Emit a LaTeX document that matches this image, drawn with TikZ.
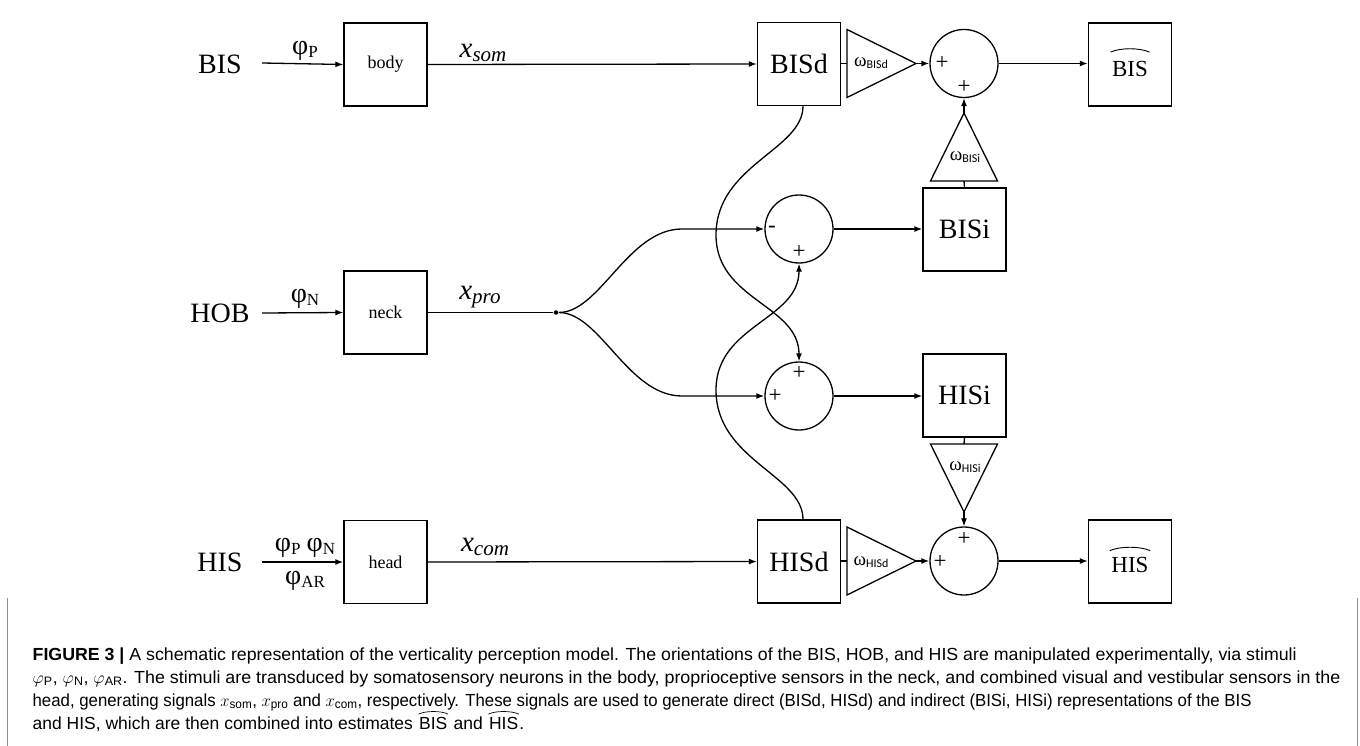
\documentclass[tikz,border=0pt]{standalone}
\usepackage{graphicx}
\usepackage{fontspec}
\setmainfont{Liberation Serif}
\newfontfamily\grk{Liberation Serif}
\newfontfamily\capfont{Liberation Sans}
\newfontfamily\subsans{Carlito}
\usetikzlibrary{arrows.meta}
\newcommand{\phisub}[1]{{\grk\fontsize{28}{28}\selectfont φ}{\fontsize{17}{17}\selectfont\raisebox{-3pt}{#1}}}
\newcommand{\omsub}[1]{{\grk\fontsize{19}{19}\selectfont ω}{\subsans\fontsize{12}{12}\selectfont\raisebox{-2pt}{#1}}}
\newcommand{\xsub}[1]{{\itshape\fontsize{29}{29}\selectfont x}{\itshape\fontsize{21}{21}\selectfont\raisebox{-4pt}{#1}}}
\begin{document}
\begin{tikzpicture}[x=1pt,y=-1pt,
  line width=1.3pt,
  blk/.style={draw, line width=1.3pt, minimum width=83pt, minimum height=83pt, inner sep=0pt},
  bigtxt/.style={font=\fontsize{28}{30}\selectfont},
  smalltxt/.style={font=\fontsize{18}{20}\selectfont},
  hattxt/.style={inner sep=0pt, font=\fontsize{23}{25}\selectfont},
  sumc/.style={draw, circle, line width=1.3pt, minimum size=68pt, inner sep=0pt},
  sgn/.style={inner sep=0pt, font=\fontsize{23}{23}\selectfont},
  lbl/.style={inner sep=0pt},
  tri/.style={draw, line width=1.3pt, line join=miter},
  arr/.style={-{Latex[length=8pt,width=6pt]}},
  hatl/.style={draw, line width=0.9pt},
  chatl/.style={draw, line width=0.7pt},
  captxt/.style={anchor=base west, inner sep=0pt, font=\capfont\fontsize{17.5}{19}\selectfont},
  framel/.style={draw=black!45, line width=1pt}
]
\useasboundingbox (0,0) rectangle (1360,746);

% input labels
\node[lbl, bigtxt] (BIS) at (220,64) {BIS};
\node[lbl, bigtxt] (HOB) at (220,313) {HOB};
\node[lbl, bigtxt] (HIS) at (220,562) {HIS};
\coordinate (inB) at (262,63);
\coordinate (inN) at (262,313);
\coordinate (inH) at (262,562);

% sensor blocks
\node[blk, smalltxt] (body) at (385.5,64.5) {body};
\node[blk, smalltxt] (neck) at (385.5,312.5) {neck};
\node[blk, smalltxt] (head) at (385.5,562) {head};

% stimulus labels
\node[lbl] (phiP) at (305,51) {\phisub{P}};
\node[lbl] (phiN) at (305,299) {\phisub{N}};
\node[lbl] (phiPN) at (305,548) {\phisub{P}\hspace{6pt}\phisub{N}};
\node[lbl] (phiAR) at (305,581) {\phisub{AR}};

% signal labels
\node[lbl] (xsom) at (483,53) {\xsub{som}};
\node[lbl] (xpro) at (480,297) {\xsub{pro}};
\node[lbl] (xcom) at (485,547) {\xsub{com}};

% representation blocks
\node[blk, bigtxt] (BISd) at (799,64) {BISd};
\node[blk, bigtxt] (BISi) at (964.5,229.5) {BISi};
\node[blk, bigtxt] (HISi) at (964.5,395.5) {HISi};
\node[blk, bigtxt] (HISd) at (799,561.5) {HISd};
\node[blk] (BIShat) at (1130,64.5) {};
\node[blk] (HIShat) at (1130,561.5) {};
\node[hattxt] (BIStxt) at (1130,69.5) {BIS};
\node[hattxt] (HIStxt) at (1130,565) {HIS};
\draw[hatl] ([xshift=-1pt,yshift=9pt]BIStxt.north west) .. controls +(10,-4.5) and +(-10,-4.5) .. ([xshift=1pt,yshift=9pt]BIStxt.north east);
\draw[hatl] ([xshift=-1pt,yshift=6pt]HIStxt.north west) .. controls +(10,-4.5) and +(-10,-4.5) .. ([xshift=1pt,yshift=6pt]HIStxt.north east);

% sum junctions
\node[sumc] (S1) at (964,63.5) {};
\node[sumc] (M) at (799,229) {};
\node[sumc] (P) at (799,396) {};
\node[sumc] (S2) at (964,561) {};
\node[sgn] (s1a) at (942,63) {+};
\node[sgn] (s1b) at (964,87) {+};
\node[sgn] (ma) at (772,229) {-};
\node[sgn] (mb) at (799,252) {+};
\node[sgn] (pa) at (799,373) {+};
\node[sgn] (pb) at (775,396) {+};
\node[sgn] (s2a) at (964,539) {+};
\node[sgn] (s2b) at (940,562) {+};

% weight triangles
\draw[tri] (847,29.5) -- (916,63.5) -- (847,97.5) -- cycle;
\coordinate (tBdin) at (847,63.5);
\coordinate (tBdout) at (916,63.5);
\node[lbl] (wBd) at (871,63.5) {\omsub{BISd}};

\draw[tri] (930.5,181) -- (964,113) -- (997.5,181) -- cycle;
\coordinate (tBibase) at (964,181);
\coordinate (tBiapex) at (964,113);
\node[lbl] (wBi) at (965,157) {\omsub{BISi}};

\draw[tri] (930.5,444) -- (964,512) -- (997.5,444) -- cycle;
\coordinate (tHibase) at (964,444);
\coordinate (tHiapex) at (964,512);
\node[lbl] (wHi) at (965,467) {\omsub{HISi}};

\draw[tri] (847,527) -- (916,561) -- (847,595) -- cycle;
\coordinate (tHdin) at (847,561);
\coordinate (tHdout) at (916,561);
\node[lbl] (wHd) at (871,562) {\omsub{HISd}};

% split point
\node[circle, fill, inner sep=0pt, minimum size=4.5pt] (split) at (556,312.5) {};

% connectors
\draw[arr] (inB) -- (body.west);
\draw[arr] (inN) -- (neck.west);
\draw[arr] (inH) -- (head.west);
\draw[arr] (body.east) -- (BISd.west);
\draw (neck.east |- split) -- (split);
\draw[arr] (head.east) -- (HISd.west);
\draw (BISd.east |- tBdin) -- (tBdin);
\draw (HISd.east |- tHdin) -- (tHdin);
\draw[arr] (tBdout) -- (S1.west);
\draw[arr] (tHdout) -- (S2.west);
\draw[arr] (S1.east) -- (BIShat.west |- S1.east);
\draw[arr] (S2.east) -- (HIShat.west |- S2.east);
\draw (BISi.north) -- (tBibase);
\draw[arr] (tBiapex) -- (S1.south);
\draw (HISi.south) -- (tHibase);
\draw[arr] (tHiapex) -- (S2.north);
\draw[arr] (M.east) -- (BISi.west |- M.east);
\draw[arr] (P.east) -- (HISi.west |- P.east);
\draw[arr] (split) .. controls (600,312.5) and (628,229) .. (682,229) -- (M.west);
\draw[arr] (split) .. controls (600,312.5) and (628,396) .. (682,396) -- (P.west);
\draw[arr] ([xshift=4pt]BISd.south) .. controls (803,150) and (716,165) .. (716,235)
   .. controls (716,300) and (799,305) .. (P.north);
\draw[arr] ([xshift=4pt]HISd.north) .. controls (803,475) and (716,460) .. (716,390)
   .. controls (716,325) and (799,320) .. (M.south);

% caption frame
\coordinate (fl1) at (7,598);
\coordinate (fl2) at (7,746);
\coordinate (fr1) at (1357,598);
\coordinate (fr2) at (1357,746);
\draw[framel] (fl1) -- (fl2);
\draw[framel] (fr1) -- (fr2);

% caption
\node[captxt] (c1) at (32,660) {\scalebox{1.015}[1]{\textbf{FIGURE 3 |} A schematic representation of the verticality perception model. The orientations of the BIS, HOB, and HIS are manipulated experimentally, via stimuli}};
\node[captxt] (c2) at (32,683) {\scalebox{1.02}[1]{$\varphi$\textsubscript{P}, $\varphi$\textsubscript{N}, $\varphi$\textsubscript{AR}. The stimuli are transduced by somatosensory neurons in the body, proprioceptive sensors in the neck, and combined visual and vestibular sensors in the}};
\node[captxt] (c3) at (32,706) {\scalebox{0.96}[1]{head, generating signals $x$\textsubscript{som}, $x$\textsubscript{pro} and $x$\textsubscript{com}, respectively. These signals are used to generate direct (BISd, HISd) and indirect (BISi, HISi) representations of the BIS}};
\node[captxt] (c4) at (32,729) {and HIS, which are then combined into estimates};
\node[captxt] (c4b) at ([xshift=4.9pt]c4.base east) {BIS};
\node[captxt] (c4c) at ([xshift=4.9pt]c4b.base east) {and};
\node[captxt] (c4d) at ([xshift=4.9pt]c4c.base east) {HIS};
\node[captxt] (c4e) at (c4d.base east) {.};
\draw[chatl] ([yshift=2pt]c4b.north west) .. controls +(7,-3.5) and +(-7,-3.5) .. ([yshift=2pt]c4b.north east);
\draw[chatl] ([yshift=2pt]c4d.north west) .. controls +(7,-3.5) and +(-7,-3.5) .. ([yshift=2pt]c4d.north east);
\end{tikzpicture}
\end{document}
